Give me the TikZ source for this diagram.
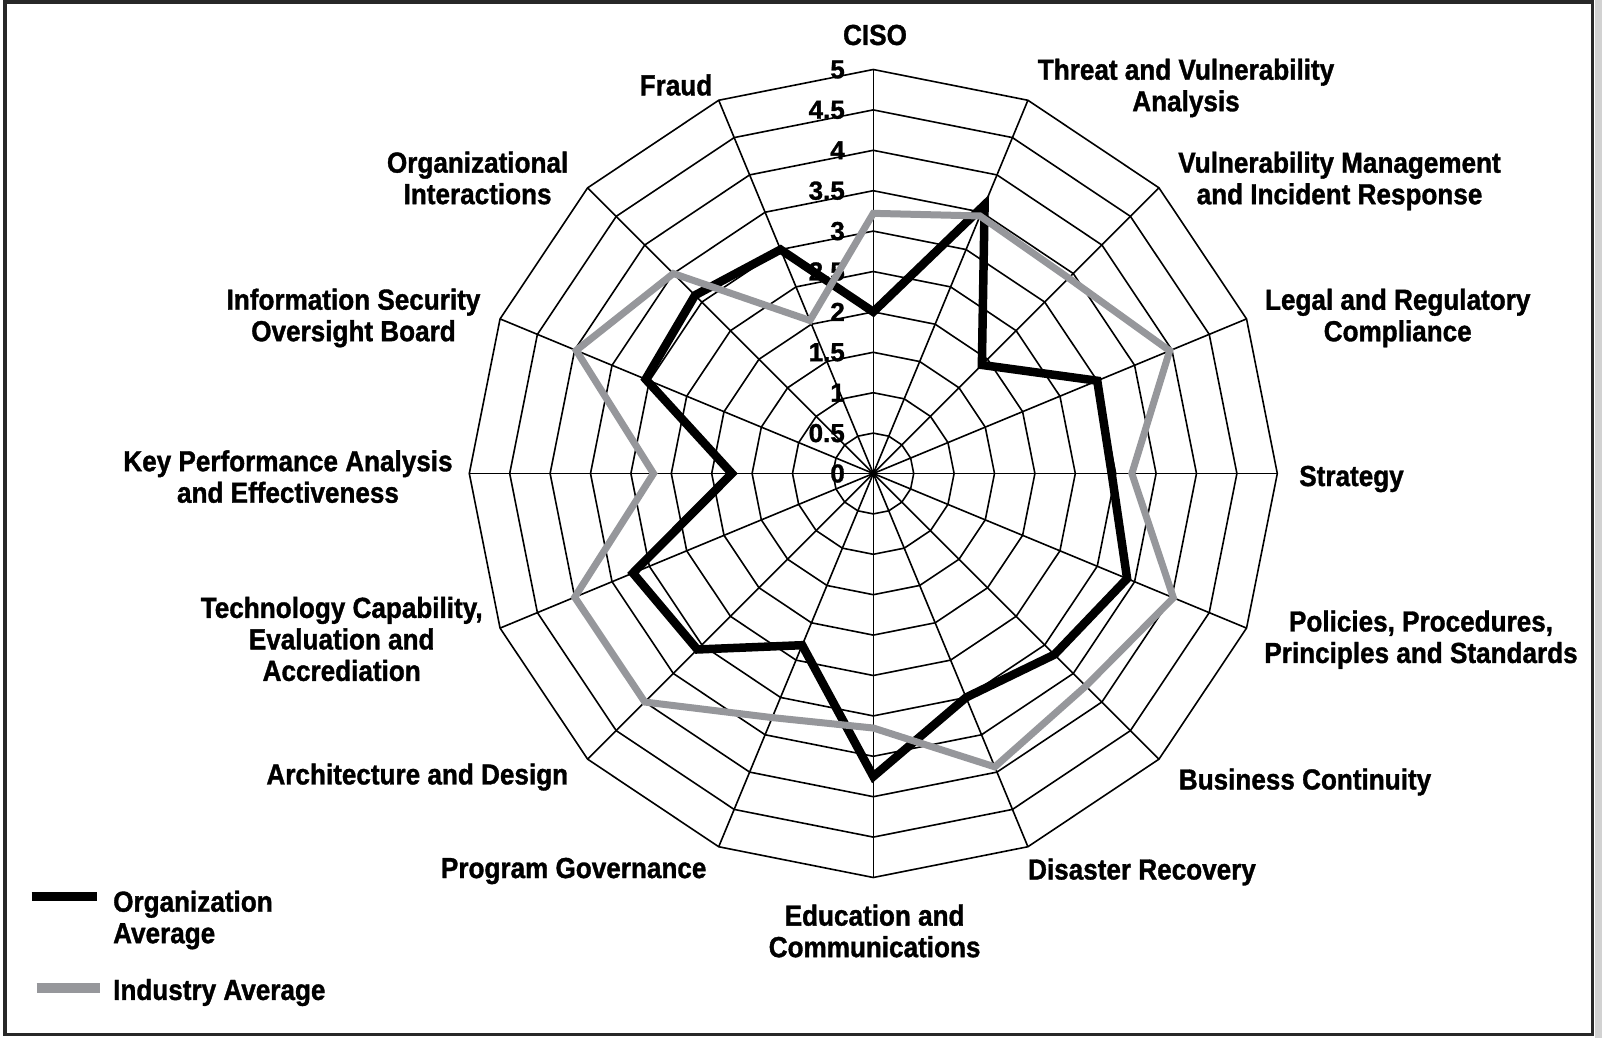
\documentclass[tikz,border=0pt]{standalone}
\usepackage{fontspec}
\setmainfont{Liberation Sans}
\newfontfamily\labfont[FakeStretch=0.9,FakeBold=1.2]{Liberation Sans}
\newfontfamily\numfont[FakeBold=1.2]{Liberation Sans}
\definecolor{indgray}{RGB}{150,151,155}
\definecolor{framegray}{RGB}{40,40,40}
\begin{document}
\begin{tikzpicture}[x=1pt,y=-1pt,
  lab/.style={font=\labfont\bfseries\fontsize{29}{31.5}\selectfont, align=center, inner sep=0pt},
  num/.style={font=\numfont\bfseries\fontsize{26}{28}\selectfont, anchor=east, inner sep=0pt},
  gridline/.style={line width=1.6pt, black},
  orgline/.style={line width=8.5pt, black},
  indline/.style={line width=7pt, indgray}]
\useasboundingbox (0,0) rectangle (1602,1038);
\fill[white] (0,0) rectangle (1602,1038);
\fill[gray!35] (1595,0) rectangle (1602,1038);
\draw[line width=3.2pt, framegray] (5,2) rectangle (1592.7,1034.7);

% grid
\begin{scope}[xshift=873.3pt, yshift=-473.5pt, x=80.8pt, y=-80.8pt]
  \foreach \i in {0,...,15} \draw[gridline] (0,0) -- ({-90+22.5*\i}:5);
  \foreach \k in {1,...,10}
    \draw[gridline] (-90:\k/2) \foreach \i in {1,...,15}{ -- ({-90+22.5*\i}:\k/2)} -- cycle;
\end{scope}

% scale numbers
\foreach \k/\t in {0/0,1/0.5,2/1,3/1.5,4/2,5/2.5,6/3,7/3.5,8/4,9/4.5,10/5}
  \node[num] (n\k) at (845,{473.5-40.4*\k}) {\t};

% data
\begin{scope}[xshift=873.3pt, yshift=-473.5pt, x=80.8pt, y=-80.8pt]
  \draw[orgline] (-90:2.0) -- (-67.5:3.6) -- (-45:1.9) -- (-22.5:3.0) -- (0:2.95)
    -- (22.5:3.4) -- (45:3.17) -- (67.5:3.0) -- (90:3.75) -- (112.5:2.3)
    -- (135:3.08) -- (157.5:3.22) -- (180:1.75) -- (202.5:3.05) -- (225:3.12)
    -- (247.5:3.0) -- cycle;
  \draw[indline] (-90:3.22) -- (-67.5:3.45) -- (-45:3.42) -- (-22.5:3.97) -- (0:3.2)
    -- (22.5:4.02) -- (45:3.72) -- (67.5:3.93) -- (90:3.15) -- (112.5:3.27)
    -- (135:4.0) -- (157.5:4.0) -- (180:2.72) -- (202.5:3.98) -- (225:3.5)
    -- (247.5:2.05) -- cycle;
\end{scope}

% axis labels
\node[lab] (ciso) at (875,35) {CISO};
\node[lab] (tva) at (1186,88) {Threat and Vulnerability\\Analysis};
\node[lab] (vmir) at (1339.5,181) {Vulnerability Management\\and Incident Response};
\node[lab] (lrc) at (1397.7,318) {Legal and Regulatory\\Compliance};
\node[lab] (strat) at (1351.5,479) {Strategy};
\node[lab] (ppps) at (1421,639.7) {Policies, Procedures,\\Principles and Standards};
\node[lab] (bc) at (1305,782) {Business Continuity};
\node[lab] (dr) at (1142,872) {Disaster Recovery};
\node[lab] (ec) at (874.6,931) {Education and\\Communications};
\node[lab] (pg) at (573.7,871) {Program Governance};
\node[lab] (ad) at (417.3,777) {Architecture and Design};
\node[lab] (tce) at (341.7,639) {Technology Capability,\\Evaluation and\\Accrediation};
\node[lab] (kpa) at (288,476.6) {Key Performance Analysis\\and Effectiveness};
\node[lab] (isob) at (353.5,318) {Information Security\\Oversight Board};
\node[lab] (oi) at (477.6,178) {Organizational\\Interactions};
\node[lab] (fraud) at (676,85) {Fraud};

% legend
\coordinate (l1a) at (31.7,896.3);
\coordinate (l1b) at (96.7,896.3);
\coordinate (l2a) at (36.7,988);
\coordinate (l2b) at (100,988);
\draw[line width=9.3pt, black] (l1a) -- (l1b);
\draw[line width=10pt, indgray] (l2a) -- (l2b);
\node[lab, anchor=west, align=left] (leg1) at (113,920) {Organization\\Average};
\node[lab, anchor=west, align=left] (leg2) at (113,992.5) {Industry Average};
\end{tikzpicture}
\end{document}
